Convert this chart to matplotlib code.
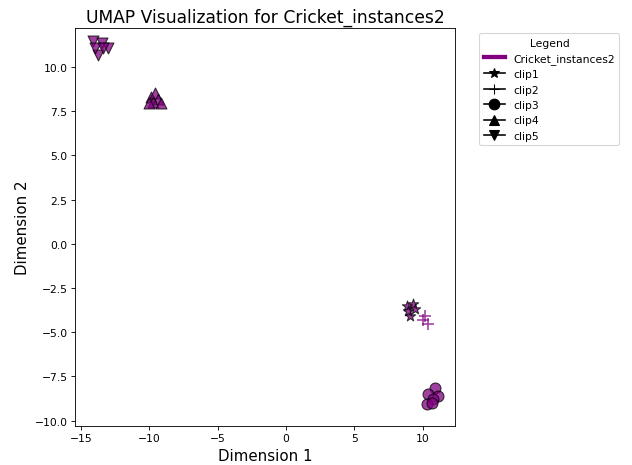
import matplotlib
matplotlib.use("Agg")
import matplotlib.pyplot as plt
from matplotlib.lines import Line2D

color = "#800080"
clip_names = ["clip1", "clip2", "clip3", "clip4", "clip5"]
markers = ["*", "+", "o", "^", "v"]

clip1_x = [8.83, 9.31, 9.07, 8.95, 9.44]
clip1_y = [-3.52, -3.43, -4.08, -3.80, -3.71]
clip2_x = [10.17, 10.39, 10.02]
clip2_y = [-4.08, -4.56, -4.29]
clip3_x = [10.90, 10.41, 11.14, 10.78, 10.29, 10.66]
clip3_y = [-8.14, -8.51, -8.60, -8.79, -9.07, -8.98]
clip4_x = [-9.88, -9.58, -9.36, -9.73, -9.14, -10.02]
clip4_y = [8.30, 8.55, 8.20, 8.00, 7.95, 7.95]
clip5_x = [-14.10, -13.48, -13.00, -13.73, -13.97, -13.37]
clip5_y = [11.45, 11.36, 11.07, 10.69, 11.07, 11.07]

xs = [clip1_x, clip2_x, clip3_x, clip4_x, clip5_x]
ys = [clip1_y, clip2_y, clip3_y, clip4_y, clip5_y]

DPI = 77
fig = plt.figure(figsize=(632/DPI, 466/DPI), dpi=DPI)
ax = fig.add_axes([75/632, 39/466, 380/632, 398/466])

for x, y, m in zip(xs, ys, markers):
    if m == "+":
        ax.scatter(x, y, marker=m, s=130, color=color, alpha=0.75, linewidths=1.5)
    else:
        ax.scatter(x, y, marker=m, s=105, color=color, alpha=0.75, edgecolors="black", linewidths=1)

ax.set_xlim(-15.44, 12.36)
ax.set_ylim(-10.3, 12.2)
ax.set_xticks([-15, -10, -5, 0, 5, 10])
ax.set_yticks([-10.0, -7.5, -5.0, -2.5, 0.0, 2.5, 5.0, 7.5, 10.0])
ax.set_title("UMAP Visualization for Cricket_instances2", fontsize=16)
ax.set_xlabel("Dimension 1", fontsize=14)
ax.set_ylabel("Dimension 2", fontsize=14)

handles = [Line2D([0], [0], color=color, lw=4, label="Cricket_instances2")]
for name, m in zip(clip_names, markers):
    handles.append(Line2D([0], [0], color="black", marker=m, markersize=10, label=name))
ax.legend(handles=handles, title="Legend", bbox_to_anchor=(1.05, 1), loc="upper left")

fig.savefig("out.png", dpi=DPI)
